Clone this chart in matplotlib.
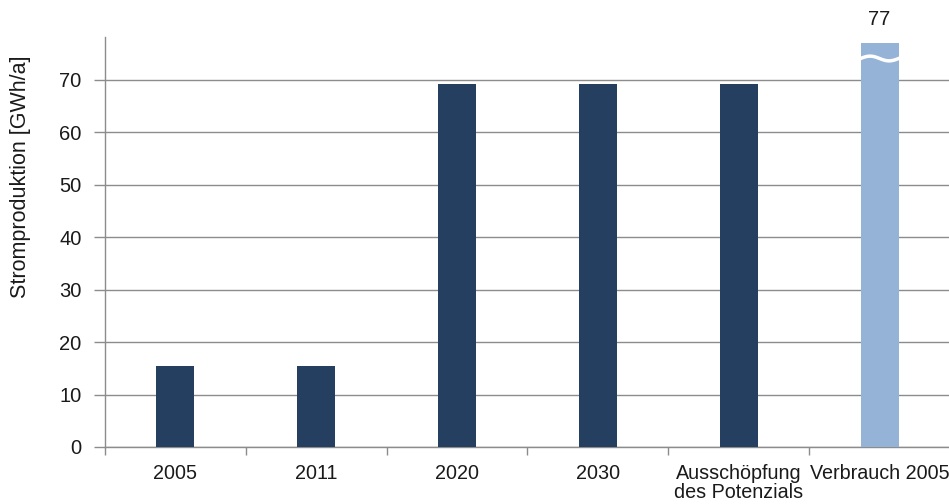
import numpy as np
import matplotlib.pyplot as plt

plt.rcParams['font.family'] = ['Liberation Sans', 'DejaVu Sans']

# Stromproduktion je Szenario in GWh/a
categories = ["2005", "2011", "2020", "2030", "Ausschöpfung\ndes Potenzials", "Verbrauch 2005"]
production = [15.4, 15.4, 69.3, 69.3, 69.3, 77]
bar_colors = ["#243F60", "#243F60", "#243F60", "#243F60", "#243F60", "#95B3D7"]
consumption_label = "77"

fig = plt.figure(figsize=(9.49, 5.04), dpi=100)
ax = fig.add_axes([105 / 949, 57 / 504, 845 / 949, 410 / 504])

x = np.arange(len(categories))
ax.bar(x, production, width=0.27, color=bar_colors, zorder=3)

ax.set_xlim(-0.5, len(categories) - 0.5)
ax.set_ylim(0, 78.2)
ax.set_yticks(range(0, 80, 10))
ax.grid(axis="y", color="#8c8c8c", linewidth=1.0, zorder=0)

# Kategorien ohne Ticks, Trennstriche zwischen den Kategorien
ax.set_xticks(x)
ax.set_xticklabels(categories, fontsize=14.2, color="#1a1a1a", va="top", linespacing=1.0)
ax.tick_params(axis="x", length=0, pad=12)
ax.set_xticks(np.arange(-0.5, len(categories)), minor=True)
ax.tick_params(axis="x", which="minor", length=6, color="#8c8c8c", width=1.0)
ax.tick_params(axis="y", length=8, color="#8c8c8c", width=1.0, labelsize=14.5, pad=9, labelcolor="#1a1a1a")

for side in ["top", "right"]:
    ax.spines[side].set_visible(False)
for side in ["left", "bottom"]:
    ax.spines[side].set_color("#8c8c8c")
    ax.spines[side].set_linewidth(1.0)

ax.set_ylabel("Stromproduktion [GWh/a]", fontsize=15.5, color="#1a1a1a", va="center")
ax.yaxis.set_label_coords(-0.1, 0.66)

# Achsenbruch im Verbrauchsbalken
last = len(categories) - 1
wx = np.linspace(last - 0.135, last + 0.135, 50)
wy = 74.1 + 0.45 * np.sin((wx - (last - 0.135)) / 0.27 * 2 * np.pi)
ax.plot(wx, wy, color="white", linewidth=2.5, zorder=4)

ax.text(last, 79.8, consumption_label, ha="center", va="bottom", fontsize=14.5,
        color="#1a1a1a", clip_on=False)

fig.savefig("out.png", dpi=100)
